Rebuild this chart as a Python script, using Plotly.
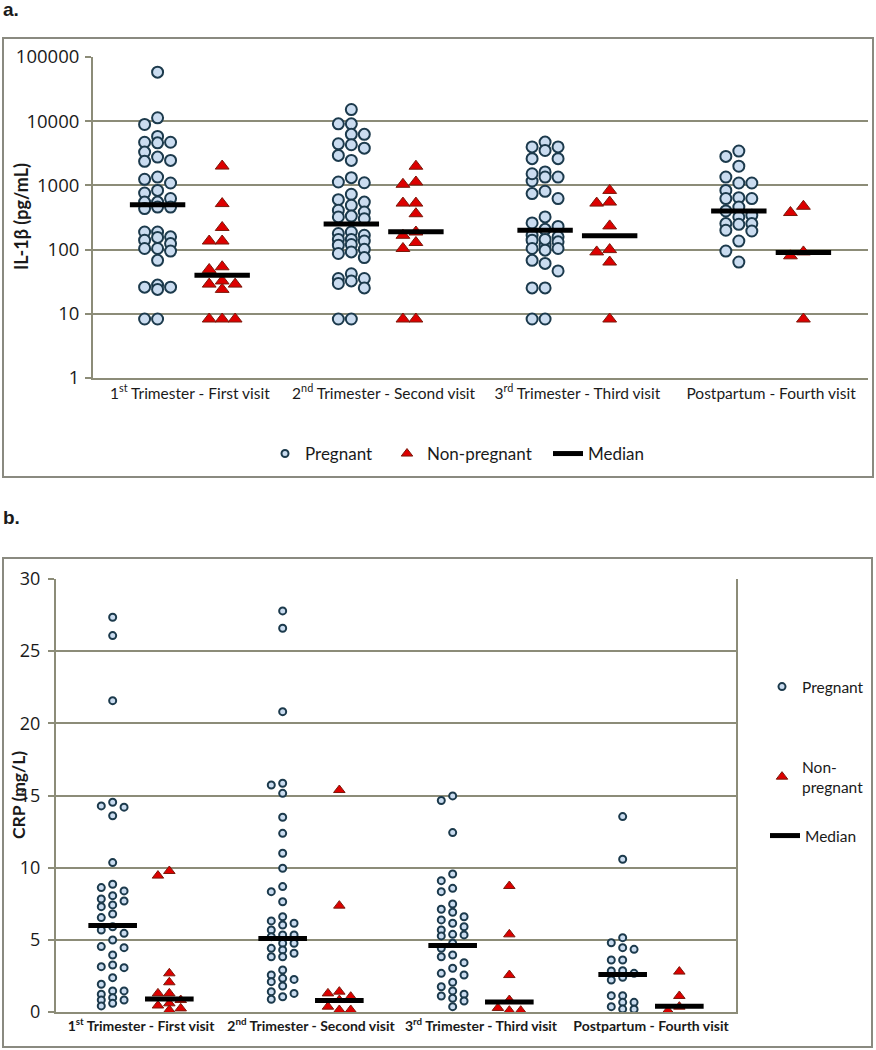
import math
import plotly.graph_objects as go

# ---------------- data ----------------
categories_a = ["1<sup>st</sup> Trimester - First visit", "2<sup>nd</sup> Trimester - Second visit",
                "3<sup>rd</sup> Trimester - Third visit", "Postpartum - Fourth visit"]
categories_b = ["<b>1<sup>st</sup> Trimester - First visit</b>", "<b>2<sup>nd</sup> Trimester - Second visit</b>",
                "<b>3<sup>rd</sup> Trimester - Third visit</b>", "<b>Postpartum - Fourth visit</b>"]

# Panel a: IL-1beta (pg/mL)
il_preg_t1 = [58000, 11300, 8900, 5800, 4600, 4700, 4700, 3300, 2370, 2450, 2760, 1350, 1090, 1245, 835, 760,
              624, 550, 550, 460, 460, 435, 188, 188, 140, 155, 158, 124, 95, 104, 104, 68, 26, 26, 28, 24, 8.3, 8.3]
il_nonp_t1 = [2000, 521, 221, 136, 136, 54, 49, 29, 29, 24, 32.5, 8.3, 8.3, 8.3]
il_preg_t2 = [15200, 9100, 9100, 6240, 6240, 3800, 4300, 4450, 2930, 2450, 1130, 1320, 1100, 727, 550, 600, 490,
              410, 333, 385, 323, 303, 188, 178, 167, 144, 144, 136, 117, 120, 101, 92, 87, 75, 42, 32.5, 35.5,
              29.7, 35.5, 25.3, 8.3, 8.3]
il_nonp_t2 = [1990, 1040, 1130, 530, 530, 362, 167, 188, 129, 104, 8.3, 8.3]
il_preg_t3 = [4730, 3980, 3980, 3500, 2610, 2610, 1350, 1620, 1350, 1170, 1520, 624, 745, 810, 323, 260, 230, 207,
              158, 167, 132, 140, 117, 144, 104, 104, 98, 61, 68, 46.5, 25.3, 25.3, 8.3, 8.3]
il_nonp_t3 = [835, 530, 550, 234, 92, 100, 64, 8.3]
il_preg_pp = [3430, 2830, 1990, 1350, 1090, 1090, 835, 624, 624, 645, 460, 400, 323, 343, 248, 254, 254, 200, 195,
              136, 95, 64]
il_nonp_pp = [473, 378, 80, 92, 8.3]
il_median_preg = [500, 250, 200, 400]
il_median_nonp = [40, 190, 165, 90]

# Panel b: CRP (mg/L)
crp_preg_t1 = [27.35, 26.08, 21.57, 14.28, 14.53, 14.19, 13.6, 10.35, 8.85, 8.62, 8.39, 7.83, 8.06, 7.69, 7.30,
               7.42, 6.79, 6.54, 5.68, 5.91, 5.45, 4.99, 4.46, 4.53, 3.95, 3.26, 3.07, 3.14, 2.38, 1.92, 1.46,
               1.46, 1.23, 0.99, 0.83, 0.60, 0.83, 0.42]
crp_nonp_t1 = [9.77, 9.45, 2.68, 2.06, 1.29, 1.29, 0.83, 0.6, 0.45, 0.25, 0.14]
crp_preg_t2 = [27.79, 26.59, 20.81, 15.85, 15.73, 15.15, 13.49, 12.38, 11.0, 9.96, 8.69, 8.34, 7.64, 6.6, 6.31,
               6.15, 6.03, 5.68, 5.34, 5.22, 5.34, 4.76, 4.76, 4.41, 4.30, 4.07, 3.83, 3.83, 2.91, 2.56, 2.33,
               2.26, 2.10, 1.80, 1.29, 1.06, 1.41, 0.88]
crp_nonp_t2 = [15.38, 7.37, 1.41, 1.29, 1.06, 0.83, 0.37, 0.14, 0.14]
crp_preg_t3 = [14.97, 14.65, 12.43, 9.56, 9.10, 8.57, 8.34, 7.48, 6.91, 7.12, 6.6, 6.38, 6.15, 5.91, 5.38, 5.68,
               5.34, 5.27, 4.76, 4.41, 3.83, 3.95, 3.42, 3.03, 2.68, 2.56, 2.06, 1.75, 1.46, 1.23, 1.11, 0.95,
               0.76, 0.37]
crp_nonp_t3 = [8.73, 5.38, 2.56, 0.83, 0.28, 0.09, 0.09]
crp_preg_pp = [13.54, 10.58, 5.15, 4.80, 4.46, 4.34, 3.60, 3.60, 2.86, 2.68, 2.84, 2.40, 2.22, 1.13, 1.13, 0.67,
               0.67, 0.37, 0.19, 0.2]
crp_nonp_pp = [2.80, 1.11, 0.37, 0.09]
crp_median_preg = [6.0, 5.1, 4.6, 2.6]
crp_median_nonp = [0.9, 0.8, 0.7, 0.4]

il_ticks = [1, 10, 100, 1000, 10000, 100000]

# ---------------- layout helpers ----------------
W, H = 876, 1050
def px(x): return x / W
def py(y): return 1 - y / H

A_X = (93, 868); A_Y = (57, 378)
B_X = (56, 736); B_Y = (579, 1012)

GROUP_OFF = 1 / 6
COL_STEP = 0.067
MED_HALF = 0.143

GRID = "#8c8c78"
FRAME = "#8a8a80"
PREG_FILL = "#cadcf0"
PREG_LINE = "#1c3a4c"
NONP_FILL = "#dd0000"
NONP_LINE = "#7a1a0c"
FONT = "Lato"
TICK_FONT = "Open Sans"


def swarm(values, center, to_px, diam):
    order = sorted(range(len(values)), key=lambda i: -values[i])
    placed = {-1: [], 0: [], 1: []}
    xs = [None] * len(values)
    for i in order:
        p = to_px(values[i])
        best, bestd = 0, -1
        for c in (0, -1, 1):
            d = min([abs(p - q) for q in placed[c]], default=1e9)
            if d >= diam:
                best = c
                break
            if d > bestd:
                bestd, best = d, c
        placed[best].append(p)
        xs[i] = center + best * COL_STEP
    return xs


def build(groups, to_px, diam, sign):
    xs, ys = [], []
    for ci, vals in enumerate(groups):
        xs += swarm(vals, ci + sign * GROUP_OFF, to_px, diam)
        ys += vals
    return xs, ys


def medians(med_p, med_n):
    xs, ys = [], []
    for ci, (mp, mn) in enumerate(zip(med_p, med_n)):
        for sign, m in ((-1, mp), (1, mn)):
            c = ci + sign * GROUP_OFF
            xs += [c - MED_HALF, c + MED_HALF, None]
            ys += [m, m, None]
    return xs, ys


a_scale = (A_Y[1] - A_Y[0]) / 5.0
b_scale = (B_Y[1] - B_Y[0]) / 30.0
to_px_a = lambda v: math.log10(v) * a_scale
to_px_b = lambda v: v * b_scale

preg_small = dict(symbol="circle", size=7, color=PREG_FILL, line=dict(color=PREG_LINE, width=2))
nonp_small = dict(symbol="triangle-up", size=10, color=NONP_FILL, line=dict(color=NONP_LINE, width=1))

fig = go.Figure()

# Panel a
xa, ya = build([il_preg_t1, il_preg_t2, il_preg_t3, il_preg_pp], to_px_a, 12, -1)
fig.add_trace(go.Scatter(x=xa, y=ya, mode="markers", name="Pregnant", xaxis="x", yaxis="y", showlegend=False,
                         marker=dict(symbol="circle", size=11, color=PREG_FILL, line=dict(color=PREG_LINE, width=2))))
xa, ya = build([il_nonp_t1, il_nonp_t2, il_nonp_t3, il_nonp_pp], to_px_a, 10, 1)
fig.add_trace(go.Scatter(x=xa, y=ya, mode="markers", name="Non-pregnant", xaxis="x", yaxis="y", showlegend=False,
                         marker=dict(symbol="triangle-up", size=12, color=NONP_FILL, line=dict(color=NONP_LINE, width=1))))
mx, my = medians(il_median_preg, il_median_nonp)
fig.add_trace(go.Scatter(x=mx, y=my, mode="lines", name="Median", xaxis="x", yaxis="y", showlegend=False,
                         line=dict(color="black", width=5)))
# panel a legend entries
fig.add_trace(go.Scatter(x=[None], y=[None], mode="markers", name="Pregnant", xaxis="x", yaxis="y",
                         legend="legend", marker=preg_small))
fig.add_trace(go.Scatter(x=[None], y=[None], mode="markers", name="Non-pregnant", xaxis="x", yaxis="y",
                         legend="legend2", marker=nonp_small))
fig.add_trace(go.Scatter(x=[None], y=[None], mode="lines", name="Median", xaxis="x", yaxis="y",
                         legend="legend3", line=dict(color="black", width=5)))

# Panel b
xb, yb = build([crp_preg_t1, crp_preg_t2, crp_preg_t3, crp_preg_pp], to_px_b, 8, -1)
fig.add_trace(go.Scatter(x=xb, y=yb, mode="markers", name="Pregnant", xaxis="x2", yaxis="y2", legend="legend4",
                         marker=preg_small))
xb, yb = build([crp_nonp_t1, crp_nonp_t2, crp_nonp_t3, crp_nonp_pp], to_px_b, 8, 1)
fig.add_trace(go.Scatter(x=xb, y=yb, mode="markers", name="Non-<br>pregnant", xaxis="x2", yaxis="y2",
                         legend="legend5", marker=nonp_small))
mx, my = medians(crp_median_preg, crp_median_nonp)
fig.add_trace(go.Scatter(x=mx, y=my, mode="lines", name="Median", xaxis="x2", yaxis="y2", legend="legend6",
                         line=dict(color="black", width=5)))

common_x = dict(range=[-0.5, 3.5], tickvals=[0, 1, 2, 3], showgrid=False, zeroline=False,
                showline=True, linecolor=GRID, linewidth=2, ticks="", fixedrange=True, automargin=False)
common_y = dict(showgrid=True, gridcolor=GRID, gridwidth=2, zeroline=False, showline=True, automargin=False,
                linecolor=GRID, linewidth=2, ticks="outside", ticklen=6, tickcolor=GRID, tickwidth=2)


def leg(x, y, size):
    return dict(x=px(x), xanchor="left", y=py(y), yanchor="middle", font=dict(size=size),
                bgcolor="rgba(0,0,0,0)", orientation="v")


fig.update_layout(
    width=W, height=H, margin=dict(l=0, r=0, t=0, b=0, pad=0, autoexpand=False),
    plot_bgcolor="white", paper_bgcolor="white",
    font=dict(family=FONT, color="#1a1a1a"),
    xaxis=dict(domain=[px(A_X[0]), px(A_X[1])], anchor="y", ticktext=categories_a,
               tickfont=dict(size=15.5), **common_x),
    yaxis=dict(domain=[py(A_Y[1]), py(A_Y[0])], anchor="x", type="log", range=[0, 5],
               tickvals=il_ticks, ticktext=[str(t) for t in il_ticks],
               tickfont=dict(size=18.5, family=TICK_FONT), ticklabelstandoff=2, **common_y),
    xaxis2=dict(domain=[px(B_X[0]), px(B_X[1])], anchor="y2", ticktext=categories_b,
                tickfont=dict(size=14), **common_x),
    yaxis2=dict(domain=[py(B_Y[1]), py(B_Y[0])], anchor="x2", range=[0, 30], dtick=5, mirror=True,
                tickfont=dict(size=18, family=TICK_FONT), ticklabelstandoff=4, **common_y),
    legend=leg(265, 454, 17),
    legend2=leg(387, 454, 17),
    legend3=leg(548, 454, 17),
    legend4=leg(762, 687, 15.5),
    legend5=leg(762, 777, 15.5),
    legend6=leg(765, 836, 15.5),
    showlegend=True,
)

# frames
for (x0, y0, x1, y1) in [(3, 38, 873, 477), (3, 558, 872, 1047)]:
    fig.add_shape(type="rect", xref="paper", yref="paper", x0=px(x0), x1=px(x1), y0=py(y1), y1=py(y0),
                  line=dict(color=FRAME, width=2), fillcolor="rgba(0,0,0,0)", layer="below")

ann = [
    dict(text="<b>a.</b>", x=px(1), y=py(10), xanchor="left", yanchor="middle",
         font=dict(size=19, family="Liberation Sans")),
    dict(text="<b>b.</b>", x=px(1), y=py(517), xanchor="left", yanchor="middle",
         font=dict(size=19, family="Liberation Sans")),
    dict(text="<b>IL-1β (pg/mL)</b>", x=px(21), y=py(217), textangle=-90, xanchor="center", yanchor="middle",
         font=dict(size=18)),
    dict(text="<b>CRP (mg/L)</b>", x=px(18), y=py(795), textangle=-90, xanchor="center", yanchor="middle",
         font=dict(size=17.5)),
]
for a in ann:
    fig.add_annotation(xref="paper", yref="paper", showarrow=False, **a)

post = ("document.body.style.margin='0';"
        "var gd=document.getElementById('{plot_id}');"
        "gd.style.position='fixed';gd.style.left='0px';gd.style.top='0px';")
fig.write_html("out.html", config={"displayModeBar": False}, post_script=post)
